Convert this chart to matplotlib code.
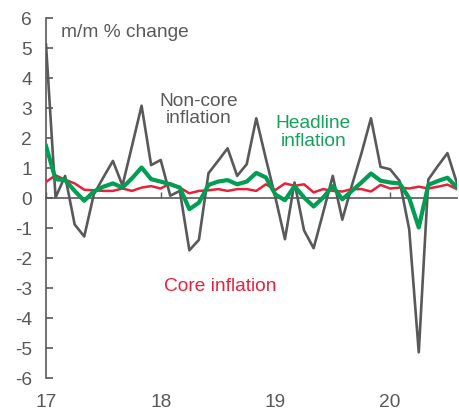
"""
m/m inflation: headline, core and non-core, 2017-2020.
"""
import numpy as np
import matplotlib
matplotlib.use("Agg")
import matplotlib.pyplot as plt

plt.rcParams["font.family"] = ["Liberation Sans", "DejaVu Sans"]
plt.rcParams["axes.unicode_minus"] = False

# monthly data, Jan 2017 onwards
start_year = 17
noncore = [5.1, 0.0, 0.72, -0.9, -1.3, 0.1, 0.67, 1.22, 0.4, 1.72, 3.06, 1.08,
           1.25, 0.06, 0.22, -1.76, -1.41, 0.81, 1.22, 1.64, 0.72, 1.11, 2.64, 1.3,
           0.0, -1.39, 0.5, -1.1, -1.69, -0.5, 0.72, -0.74, 0.4, 1.47, 2.64, 1.02,
           0.94, 0.55, -1.06, -5.16, 0.6, 1.05, 1.48, 0.47]
headline = [1.72, 0.61, 0.58, 0.22, -0.11, 0.2, 0.36, 0.47, 0.33, 0.64, 1.0, 0.61,
            0.53, 0.44, 0.33, -0.39, -0.17, 0.42, 0.53, 0.58, 0.44, 0.53, 0.82, 0.67,
            0.1, -0.09, 0.38, 0.0, -0.3, 0.0, 0.38, -0.06, 0.22, 0.5, 0.8, 0.56,
            0.5, 0.47, -0.02, -1.0, 0.42, 0.55, 0.66, 0.33]
core = [0.52, 0.74, 0.59, 0.47, 0.26, 0.24, 0.22, 0.22, 0.3, 0.22, 0.33, 0.38,
        0.3, 0.47, 0.33, 0.14, 0.22, 0.24, 0.28, 0.22, 0.28, 0.28, 0.22, 0.44,
        0.25, 0.47, 0.39, 0.44, 0.17, 0.28, 0.22, 0.2, 0.28, 0.28, 0.2, 0.42,
        0.3, 0.33, 0.3, 0.36, 0.3, 0.36, 0.43, 0.28]
year_ticks = [17, 18, 19, 20]
y_ticks = list(range(-6, 7))

GREY = "#595959"
GREEN = "#009E52"
RED = "#E8213A"
FS = 13.8

x = start_year + np.arange(len(noncore)) / 12

fig = plt.figure(figsize=(4.6, 4.1), dpi=100)
ax = fig.add_axes([46 / 460, 1 - 378.5 / 410, 411 / 460, 360 / 410])

ax.plot(x, noncore, color=GREY, lw=1.9, zorder=3)
ax.plot(x, core, color=RED, lw=1.8, zorder=4)
ax.plot(x, headline, color=GREEN, lw=3.0, zorder=5)

ax.set_xlim(x[0], x[-1])
ax.set_ylim(-6, 6)
ax.set_yticks(y_ticks)
ax.set_yticklabels([str(v) for v in y_ticks])

for s in ["top", "right"]:
    ax.spines[s].set_visible(False)
ax.spines["left"].set_color(GREY)
ax.spines["left"].set_linewidth(1.2)
ax.spines["bottom"].set_position(("data", 0))
ax.spines["bottom"].set_color(GREY)
ax.spines["bottom"].set_linewidth(1.2)

ax.set_xticks(year_ticks)
ax.tick_params(axis="x", direction="in", length=4, width=1, color=GREY, labelbottom=False)
ax.tick_params(axis="y", direction="in", length=5, width=1.2, color=GREY,
               labelcolor=GREY, labelsize=FS, pad=10)

sec = ax.secondary_xaxis(0)
sec.set_xticks(year_ticks)
sec.set_xticklabels([str(v) for v in year_ticks])
sec.spines["bottom"].set_visible(False)
sec.tick_params(length=0, labelcolor=GREY, labelsize=FS, pad=11)

ax.text(17.13, 5.55, "m/m % change", color=GREY, fontsize=FS, va="center", ha="left")
ax.text(18.33, 2.95, "Non-core\ninflation", color=GREY, fontsize=FS,
        ha="center", va="center", linespacing=1.05)
ax.text(19.33, 2.2, "Headline\ninflation", color="#15A05C", fontsize=FS,
        ha="center", va="center", linespacing=1.05)
ax.text(18.52, -2.93, "Core inflation", color=RED, fontsize=FS, ha="center", va="center")

fig.savefig("out.png", dpi=100)
